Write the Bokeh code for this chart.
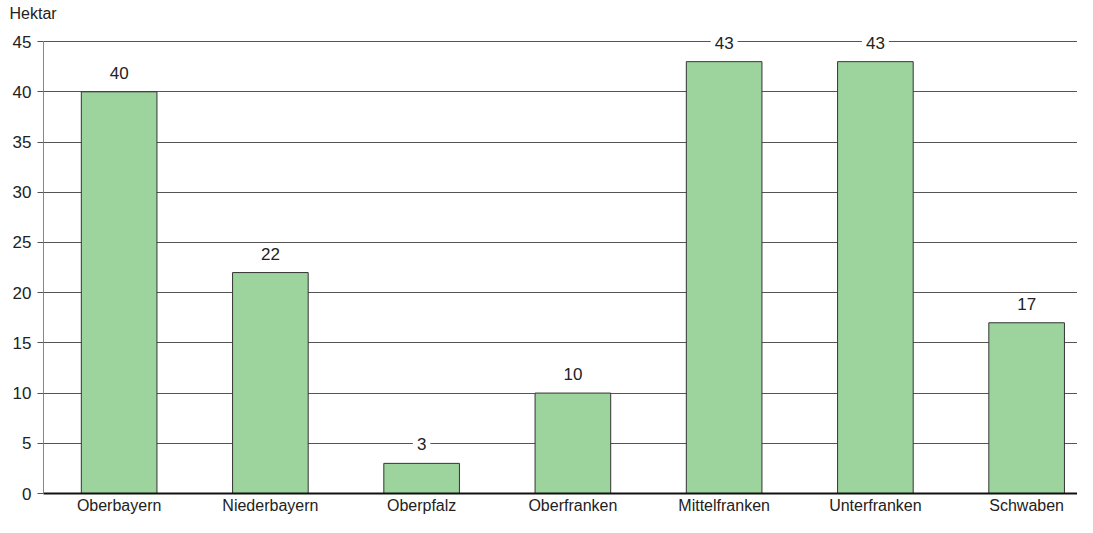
from bokeh.plotting import figure
from bokeh.models import Range1d, FixedTicker, Label, ColumnDataSource
from bokeh.embed import file_html
from bokeh.resources import INLINE

categories = ["Oberbayern", "Niederbayern", "Oberpfalz", "Oberfranken",
              "Mittelfranken", "Unterfranken", "Schwaben"]
values = [40, 22, 3, 10, 43, 43, 17]
y_ticks = [0, 5, 10, 15, 20, 25, 30, 35, 40, 45]
unit_label = "Hektar"

FONT = "Liberation Sans Narrow, Arial Narrow, Liberation Sans, sans-serif"
TXT = "#222222"

xs = list(range(len(categories)))
src = ColumnDataSource(dict(x=xs, top=values))

W, H = 1077, 517
LEFT = 43
p = figure(width=W, height=H, output_backend="svg", toolbar_location=None,
           x_range=Range1d(-0.5, -0.5 + (W - LEFT) / 151.25), y_range=Range1d(0, 47),
           min_border_left=LEFT, min_border_right=0, min_border_top=21,
           min_border_bottom=24, title=unit_label)
p.outline_line_color = None
p.background_fill_color = "white"

p.title.text_font = FONT
p.title.text_font_size = "16px"
p.title.text_font_style = "normal"
p.title.text_color = TXT
p.title.align = "left"
p.title.offset = -34
p.title.standoff = 0

p.vbar(x="x", top="top", width=0.5, bottom=0, source=src,
       fill_color="#9dd39d", line_color="#333333", line_width=1)

# y axis
p.yaxis.ticker = FixedTicker(ticks=y_ticks)
p.yaxis.bounds = (0, 45)
p.yaxis.minor_tick_line_color = None
p.yaxis.major_tick_out = 6
p.yaxis.major_tick_in = 0
p.yaxis.major_tick_line_color = "#555555"
p.yaxis.axis_line_color = "#888888"
p.yaxis.major_label_text_font = FONT
p.yaxis.major_label_text_font_size = "17px"
p.yaxis.major_label_text_color = TXT
p.yaxis.major_label_standoff = 6

# x axis
p.xaxis.ticker = FixedTicker(ticks=xs)
p.xaxis.major_label_overrides = {i: c for i, c in enumerate(categories)}
p.xaxis.minor_tick_line_color = None
p.xaxis.major_tick_line_color = None
p.xaxis.major_tick_out = 0
p.xaxis.major_tick_in = 0
p.xaxis.axis_line_color = "#111111"
p.xaxis.axis_line_width = 2
p.xaxis.major_label_text_font = FONT
p.xaxis.major_label_text_font_size = "16px"
p.xaxis.major_label_text_color = TXT
p.xaxis.major_label_standoff = 3

p.xgrid.grid_line_color = None
p.ygrid.ticker = FixedTicker(ticks=y_ticks[1:])
p.ygrid.grid_line_color = "#555555"
p.ygrid.grid_line_width = 1

for x, v in zip(xs, values):
    p.add_layout(Label(x=x, y=v, text=str(v), text_align="center",
                       text_baseline="middle", y_offset=19,
                       text_font=FONT, text_font_size="17px", text_color=TXT,
                       background_fill_color="white", padding=4))

open("out.html", "w").write(file_html(p, INLINE))
